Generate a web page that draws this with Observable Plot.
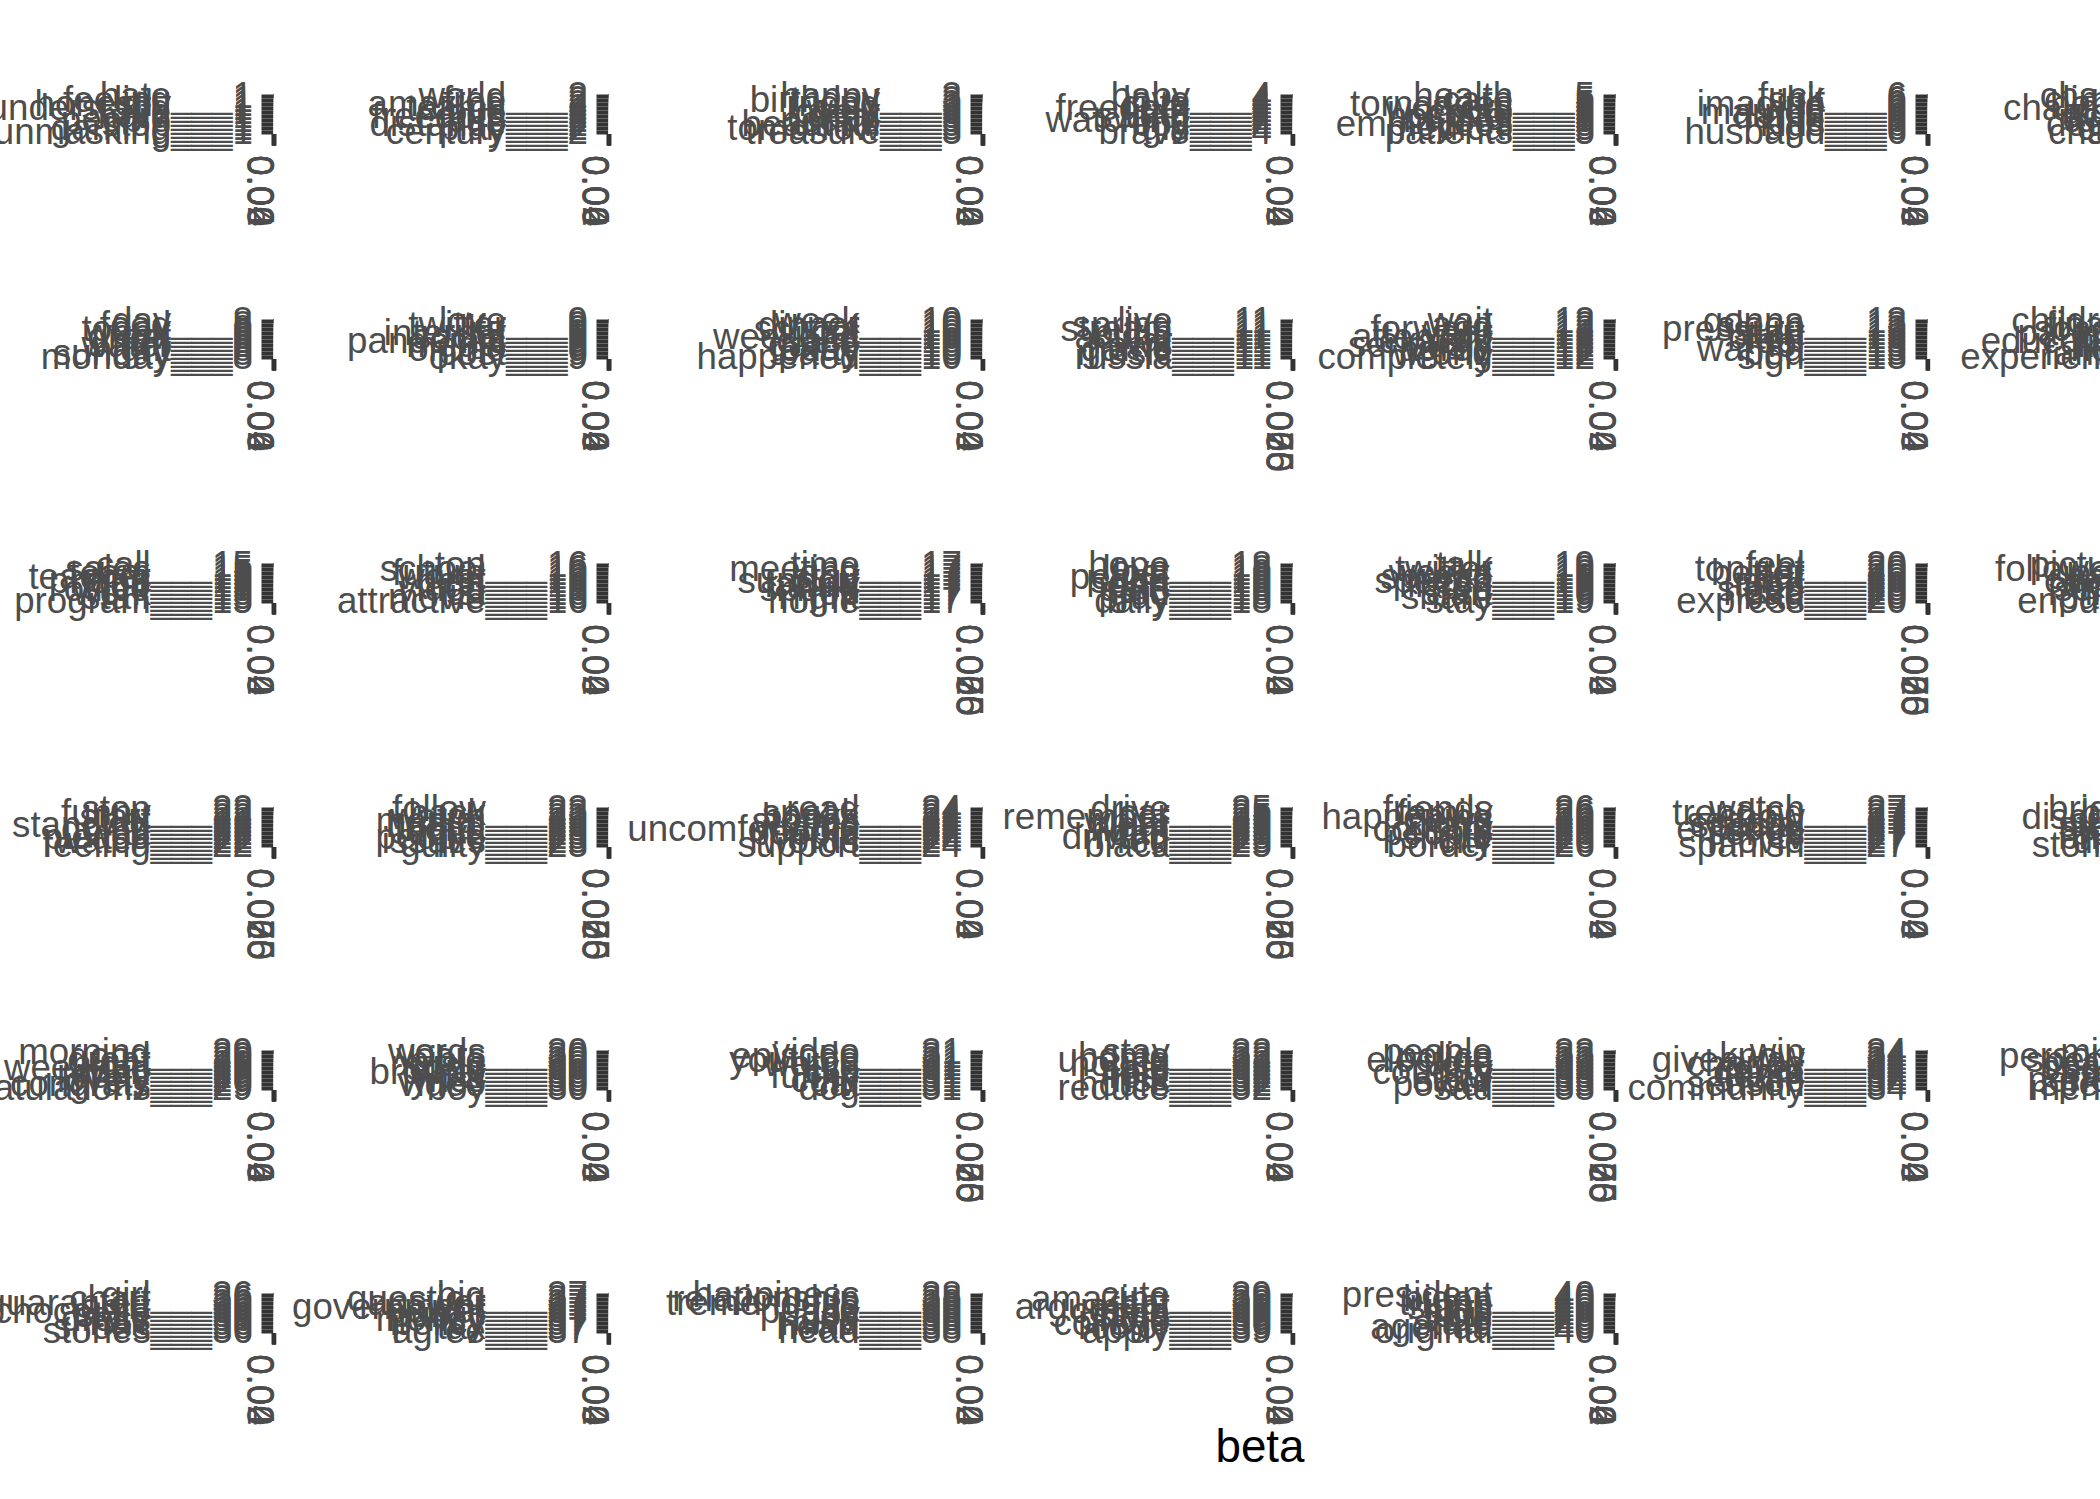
<!DOCTYPE html>
<html>
<head>
<meta charset="utf-8">
<script src="https://cdn.jsdelivr.net/npm/d3@7"></script>
<script src="https://cdn.jsdelivr.net/npm/@observablehq/plot@0.6"></script>
<style>
html, body { margin: 0; padding: 0; background: #fff; overflow: hidden; }
#chart { position: relative; width: 2100px; height: 1499px; overflow: hidden; background: #fff;
  font-family: "Liberation Sans", Arial, Helvetica, sans-serif; }
.facet { position: absolute; }
#xtitle { position: absolute; left: 1060px; width: 400px; top: 1424px; text-align: center;
  font-size: 45.8px; line-height: 1; color: #000; font-family: "Liberation Sans", Arial, Helvetica, sans-serif; }
</style>
</head>
<body>
<div id="chart"><div id="xtitle"></div></div>
<script>
// ---------- data ----------
const topicIds = [1,2,3,4,5,6,7,8,9,10,11,12,13,14,15,16,17,18,19,20,21,22,23,24,25,26,27,28,29,30,31,32,33,34,35,36,37,38,39,40];
const separator = "___";
const axisTitle = "beta";

const topicTerms = [
  ["hate","feeling","honestly","understand","life","hard","people","stop","gaming","unmasking"],
  ["world","free","amazing","teams","love","freedom","cup","distance","play","century"],
  ["happy","birthday","friend","wish","lovely","dear","peace","beautiful","tomorrow","treasure"],
  ["baby","love","cute","freedom","little","sweet","watching","boy","girl","brave"],
  ["health","care","tornadoes","workers","covid","hospital","nurses","employees","medical","patients"],
  ["fuck","shit","imagine","wife","married","damn","life","kids","ugh","husband"],
  ["change","climate","behind","challenge","global","action","future","degree","crisis","charge"],
  ["day","food","today","week","great","fun","water","night","sunday","monday"],
  ["love","twitter","life","internet","social","pandemic","media","online","post","okay"],
  ["week","dinner","school","cat","weekend","class","game","today","party","happened"],
  ["live","spring","stream","putin","acting","war","news","game","music","russia"],
  ["wait","ago","forward","year","attention","exactly","seriously","agree","wrong","completely"],
  ["gonna","sleep","pressure","start","bitch","feel","lol","wanna","bed","sign"],
  ["children","finally","school","parents","kids","education","free","help","family","experience"],
  ["call","sales","team","teacher","phone","job","office","work","staff","program"],
  ["top","school","future","worst","best","high","video","list","movie","attractive"],
  ["time","meeting","long","stay","support","family","spend","job","night","home"],
  ["hope","love","lost","peace","soon","heart","safe","god","pray","daily"],
  ["talk","twitter","weeks","spread","speech","listen","free","start","share","stay"],
  ["feel","tonight","better","cat","sick","tired","sleep","head","bad","express"],
  ["picture","followers","post","share","check","photo","selfie","link","page","enough"],
  ["stop","funny","start","cat","standing","going","wait","please","watch","feeling"],
  ["follow","back","watch","mental","health","friend","guys","people","issues","guilty"],
  ["read","speak","books","stories","writing","uncomfortable","people","truth","words","support"],
  ["drive","car","remember","white","wear","night","road","driving","red","black"],
  ["friends","family","happening","news","hard","country","people","share","city","border"],
  ["watch","trending","show","season","special","episode","series","tv","movie","spanish"],
  ["bright","bye","discord","stop","store","story","best","bring","dish","stories"],
  ["morning","good","great","night","weekend","wish","today","lovely","congrats","congratulations"],
  ["words","years","bible","music","song","brother","wow","lyrics","video","boy"],
  ["video","episode","youtube","watch","live","clip","funny","cute","cat","dog"],
  ["stay","home","update","house","safe","help","rest","risk","hours","reduce"],
  ["people","police","election","vote","party","country","law","state","power","sad"],
  ["win","know","giveaway","chance","cover","game","team","lose","season","community"],
  ["mind","personal","special","peace","space","spirit","mine","perfect","spend","mental"],
  ["girl","chart","guarantee","shirt","chocolate","style","dress","hair","shoes","stories"],
  ["big","question","answer","government","power","public","money","policy","tax","agree"],
  ["happiness","relationship","tremendous","life","peace","joy","love","mind","heart","head"],
  ["cute","amazing","cat","argument","coffee","style","photo","college","color","apply"],
  ["president","biden","trump","signs","sign","bill","vote","state","agenda","original"]
];

const topicBetas = [
  [0.061,0.034,0.028,0.022,0.019,0.017,0.015,0.013,0.012,0.011],
  [0.063,0.041,0.030,0.024,0.020,0.017,0.015,0.013,0.012,0.010],
  [0.066,0.052,0.027,0.021,0.018,0.016,0.014,0.013,0.012,0.011],
  [0.048,0.031,0.025,0.021,0.018,0.016,0.014,0.013,0.012,0.011],
  [0.058,0.036,0.027,0.022,0.019,0.017,0.015,0.014,0.013,0.012],
  [0.062,0.038,0.026,0.021,0.018,0.016,0.015,0.014,0.013,0.012],
  [0.055,0.040,0.028,0.022,0.019,0.017,0.015,0.014,0.013,0.012],
  [0.064,0.035,0.027,0.022,0.019,0.017,0.015,0.014,0.013,0.012],
  [0.059,0.033,0.025,0.021,0.018,0.016,0.015,0.014,0.013,0.012],
  [0.047,0.030,0.024,0.020,0.018,0.016,0.015,0.014,0.013,0.012],
  [0.083,0.044,0.031,0.024,0.020,0.018,0.016,0.015,0.014,0.013],
  [0.052,0.032,0.026,0.021,0.018,0.016,0.015,0.014,0.013,0.012],
  [0.057,0.034,0.025,0.021,0.018,0.016,0.015,0.014,0.013,0.012],
  [0.060,0.037,0.027,0.022,0.019,0.017,0.015,0.014,0.013,0.012],
  [0.046,0.031,0.025,0.021,0.018,0.016,0.015,0.014,0.013,0.012],
  [0.044,0.029,0.024,0.020,0.018,0.016,0.015,0.014,0.013,0.012],
  [0.086,0.041,0.029,0.023,0.020,0.018,0.016,0.015,0.014,0.013],
  [0.050,0.033,0.025,0.021,0.018,0.016,0.015,0.014,0.013,0.012],
  [0.043,0.030,0.024,0.020,0.018,0.016,0.015,0.014,0.013,0.012],
  [0.079,0.042,0.030,0.024,0.020,0.018,0.016,0.015,0.014,0.013],
  [0.054,0.034,0.026,0.021,0.018,0.016,0.015,0.014,0.013,0.012],
  [0.081,0.043,0.030,0.024,0.020,0.018,0.016,0.015,0.014,0.013],
  [0.077,0.040,0.029,0.023,0.020,0.018,0.016,0.015,0.014,0.013],
  [0.049,0.032,0.025,0.021,0.018,0.016,0.015,0.014,0.013,0.012],
  [0.084,0.045,0.031,0.024,0.020,0.018,0.016,0.015,0.014,0.013],
  [0.045,0.030,0.024,0.020,0.018,0.016,0.015,0.014,0.013,0.012],
  [0.047,0.031,0.025,0.021,0.018,0.016,0.015,0.014,0.013,0.012],
  [0.053,0.033,0.026,0.021,0.018,0.016,0.015,0.014,0.013,0.012],
  [0.058,0.036,0.027,0.022,0.019,0.017,0.015,0.014,0.013,0.012],
  [0.046,0.030,0.024,0.020,0.018,0.016,0.015,0.014,0.013,0.012],
  [0.080,0.043,0.030,0.024,0.020,0.018,0.016,0.015,0.014,0.013],
  [0.048,0.031,0.025,0.021,0.018,0.016,0.015,0.014,0.013,0.012],
  [0.078,0.041,0.029,0.023,0.020,0.018,0.016,0.015,0.014,0.013],
  [0.051,0.032,0.025,0.021,0.018,0.016,0.015,0.014,0.013,0.012],
  [0.056,0.034,0.026,0.021,0.018,0.016,0.015,0.014,0.013,0.012],
  [0.049,0.031,0.025,0.021,0.018,0.016,0.015,0.014,0.013,0.012],
  [0.057,0.035,0.027,0.022,0.019,0.017,0.015,0.014,0.013,0.012],
  [0.047,0.030,0.024,0.020,0.018,0.016,0.015,0.014,0.013,0.012],
  [0.050,0.032,0.025,0.021,0.018,0.016,0.015,0.014,0.013,0.012],
  [0.062,0.037,0.027,0.022,0.019,0.017,0.015,0.014,0.013,0.012]
];

// x-axis break step per topic (gives the tick labels 0.00/0.02/... or 0.000/0.025/...)
const tickSteps = [
  0.02,0.02,0.02,0.02,0.02,0.02,0.02,
  0.02,0.02,0.02,0.025,0.02,0.02,0.02,
  0.02,0.02,0.025,0.02,0.02,0.025,0.02,
  0.025,0.025,0.02,0.025,0.02,0.02,0.02,
  0.02,0.02,0.025,0.02,0.025,0.02,0.02,
  0.02,0.02,0.02,0.02,0.02
];

// ---------- layout (facet grid, like ggplot facet_wrap, ncol = 7) ----------
const nCol = 7;
const panelLeft = [273, 608, 982, 1292, 1615, 1927, 2262];
const panelTop = [93, 318, 562, 806, 1049, 1292];
const panelW = 1, panelH = 41;
const fontPx = 36.7, tickLen = 11.5, tickGap = 9.2;
const mL = 380, mR = 10, mT = 30, mB = 130;
const fontFamily = '"Liberation Sans", Arial, Helvetica, sans-serif';

const chart = document.getElementById("chart");
document.getElementById("xtitle").textContent = axisTitle;

topicIds.forEach((topic, i) => {
  const rows = topicTerms[i].map((term, j) => ({
    topic, term, beta: topicBetas[i][j], label: term + separator + topic
  }));
  const maxBeta = d3.max(rows, d => d.beta);
  const step = tickSteps[i];
  const decimals = String(step).split(".")[1].length;
  const nTicks = Math.floor(maxBeta * 1.05 / step + 1e-9) + 1;
  const ticks = d3.range(nTicks).map(k => +(k * step).toFixed(decimals));
  const fmt = d3.format(`.${decimals}f`);

  const svg = Plot.plot({
    width: mL + panelW + mR,
    height: mT + panelH + mB,
    marginLeft: mL, marginRight: mR, marginTop: mT, marginBottom: mB,
    style: {background: "transparent", overflow: "visible", fontFamily, maxWidth: "none"},
    x: {domain: [-0.05 * maxBeta, 1.05 * maxBeta]},
    y: {type: "band", domain: rows.map(d => d.label), paddingInner: 0.1, paddingOuter: 0.15},
    marks: [
      Plot.barX(rows, {x: "beta", y: "label", fill: "#595959"}),
      Plot.axisY({tickSize: tickLen, tickPadding: tickGap, fontSize: fontPx, stroke: "#333333",
                  strokeWidth: 4, fill: "#4d4d4d", label: null}),
      Plot.axisX({ticks, tickSize: tickLen, tickFormat: () => "", stroke: "#333333",
                  strokeWidth: 4, label: null}),
      Plot.text(ticks, {x: d => d, text: fmt, frameAnchor: "bottom", rotate: 90,
                        textAnchor: "start", lineAnchor: "top", dy: tickLen + tickGap,
                        fontSize: fontPx, fill: "#4d4d4d"})
    ]
  });

  const col = i % nCol, row = Math.floor(i / nCol);
  const holder = document.createElement("div");
  holder.className = "facet";
  holder.style.left = (panelLeft[col] - mL) + "px";
  holder.style.top = (panelTop[row] - mT) + "px";
  holder.appendChild(svg);
  chart.appendChild(holder);
});
</script>
</body>
</html>
